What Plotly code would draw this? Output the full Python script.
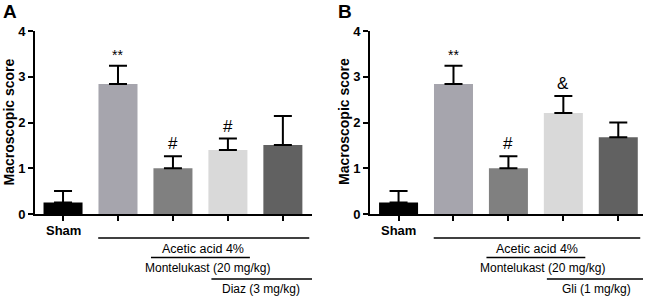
import plotly.graph_objects as go

groups = ["Sham", "Acetic acid", "AA + Montelukast", "AA + Montelukast + Diaz", "AA + Diaz"]
groups_b = ["Sham", "Acetic acid", "AA + Montelukast", "AA + Montelukast + Gli", "AA + Gli"]
values_a = [0.25, 2.84, 1.0, 1.4, 1.51]
errors_a = [0.25, 0.4, 0.26, 0.25, 0.63]
values_b = [0.25, 2.84, 1.0, 2.21, 1.68]
errors_b = [0.25, 0.4, 0.26, 0.37, 0.32]
marks_a = ["", "**", "#", "#", ""]
marks_b = ["", "**", "#", "&", ""]
colors = ["#000000", "#a6a5ad", "#808080", "#d9d9d9", "#616161"]
y_ticks = [0, 1, 2, 3, 4]

FONT = "Arial, Liberation Sans, sans-serif"
W, H = 650, 298

fig = go.Figure()


def px_x(p):
    return p / W


def px_y(p):
    return (H - p) / H


panels = [
    dict(vals=values_a, errs=errors_a, marks=marks_a, cats=groups, xa="x", ya="y",
         dom=[35, 312], rng=[-0.51, 4.53], letter="A", letter_x=1, title_x=8.5,
         drug="Diaz (3 mg/kg)"),
    dict(vals=values_b, errs=errors_b, marks=marks_b, cats=groups_b, xa="x2", ya="y2",
         dom=[370, 643], rng=[-0.52, 4.45], letter="B", letter_x=336, title_x=344,
         drug="Gli (1 mg/kg)"),
]

ydom = [px_y(214), px_y(31)]
annotations = []
shapes = []
for i, p in enumerate(panels):
    idx = list(range(len(p["vals"])))
    fig.add_trace(go.Bar(
        x=idx, y=p["vals"], marker=dict(color=colors, line=dict(width=0)),
        width=0.71,
        error_y=dict(type="data", symmetric=False, array=p["errs"],
                     arrayminus=[0] * len(p["errs"]), color="#000000",
                     thickness=2, width=9),
        xaxis=p["xa"], yaxis=p["ya"], showlegend=False, hoverinfo="skip"))
    sfx = "" if i == 0 else "2"
    fig.update_layout(**{
        "xaxis" + sfx: dict(domain=[px_x(p["dom"][0]), px_x(p["dom"][1])], range=p["rng"],
                            automargin=False,
                            showgrid=False, zeroline=False, showline=True, linecolor="#000",
                            linewidth=2, ticks="outside", ticklen=5, tickwidth=2,
                            tickcolor="#000", tickvals=idx, showticklabels=False,
                            anchor="y" + sfx),
        "yaxis" + sfx: dict(domain=ydom, range=[0, 4], showgrid=False, zeroline=False,
                            automargin=False,
                            showline=True, linecolor="#000", linewidth=2, ticks="outside",
                            ticklen=5, tickwidth=2, tickcolor="#000", tickvals=y_ticks,
                            tickfont=dict(family=FONT, size=13, color="#000", weight="bold"),
                            anchor="x" + sfx),
    })
    xr = p["xa"]
    yr = p["ya"]
    annotations.append(dict(x=px_x(p["title_x"]), y=px_y(122), xref="paper", yref="paper",
                            text="<b>Macroscopic score</b>", textangle=-90, showarrow=False,
                            xanchor="center", yanchor="middle",
                            font=dict(family=FONT, size=14, color="#000")))
    for j, m in enumerate(p["marks"]):
        if m:
            annotations.append(dict(x=j, y=p["vals"][j] + p["errs"][j], xref=xr, yref=yr,
                                    text=m, showarrow=False, yanchor="bottom", yshift=1,
                                    font=dict(family=FONT, size=17 if m != "**" else 14, color="#000")))
    annotations.append(dict(x=0, y=px_y(230), xref=xr, yref="paper", text="<b>Sham</b>",
                            showarrow=False, yanchor="middle",
                            font=dict(family=FONT, size=13, color="#000")))
    end = p["rng"][1]
    shapes.append(dict(type="line", xref=xr, yref="paper", x0=0.64, x1=end - 0.05,
                       y0=px_y(238), y1=px_y(238), line=dict(color="#000", width=1.5)))
    annotations.append(dict(x=(0.64 + end) / 2 - 0.03, y=px_y(249), xref=xr, yref="paper",
                            text="Acetic acid 4%", showarrow=False, yanchor="middle",
                            font=dict(family=FONT, size=12.5, color="#000")))
    shapes.append(dict(type="line", xref=xr, yref="paper", x0=1.6, x1=3.4,
                       y0=px_y(257.5), y1=px_y(257.5), line=dict(color="#000", width=1.5)))
    annotations.append(dict(x=2.62, y=px_y(268), xref=xr, yref="paper",
                            text="Montelukast (20 mg/kg)", showarrow=False, yanchor="middle",
                            font=dict(family=FONT, size=12, color="#000")))
    shapes.append(dict(type="line", xref=xr, yref="paper", x0=2.7, x1=end + 0.02,
                       y0=px_y(279), y1=px_y(279), line=dict(color="#000", width=1.5)))
    annotations.append(dict(x=3.6, y=px_y(289), xref=xr, yref="paper",
                            text=p["drug"], showarrow=False, yanchor="middle",
                            font=dict(family=FONT, size=12, color="#000")))
    annotations.append(dict(x=px_x(p["letter_x"]), y=px_y(11.5), xref="paper", yref="paper",
                            text="<b>" + p["letter"] + "</b>", showarrow=False,
                            xanchor="left", yanchor="middle",
                            font=dict(family=FONT, size=19, color="#000")))

fig.update_layout(template="none", width=W, height=H, margin=dict(l=0, r=0, t=0, b=0),
                  plot_bgcolor="#fff", paper_bgcolor="#fff",
                  annotations=annotations, shapes=shapes,
                  font=dict(family=FONT, color="#000"))

fig.write_html("out.html", config={"displayModeBar": False},
               post_script="document.body.style.margin='0';document.body.style.overflow='hidden';")
